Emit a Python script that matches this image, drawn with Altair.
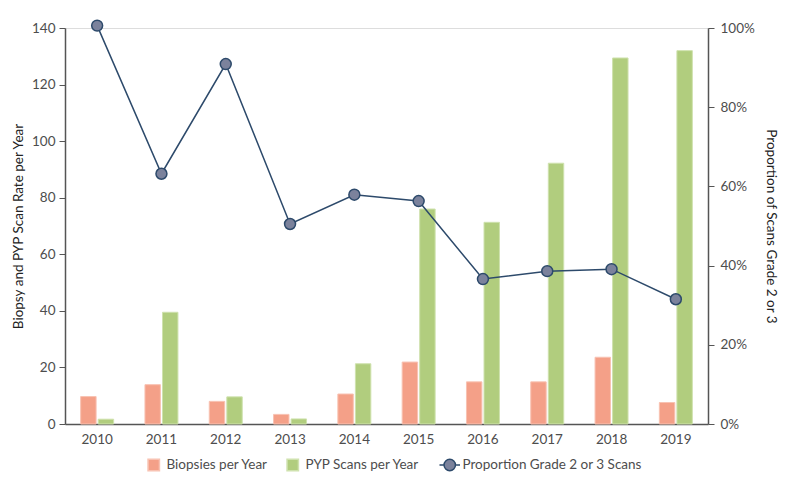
import altair as alt
import pandas as pd

years = ["2010", "2011", "2012", "2013", "2014", "2015", "2016", "2017", "2018", "2019"]
biopsies = [9.7, 13.9, 8.0, 3.4, 10.6, 21.9, 14.9, 14.9, 23.6, 7.6]
pyp_scans = [1.7, 39.5, 9.6, 1.8, 21.3, 76.0, 71.3, 92.2, 129.4, 132.0]
proportion = [1.006, 0.632, 0.909, 0.505, 0.579, 0.563, 0.366, 0.386, 0.391, 0.315]

series = ["Biopsies per Year", "PYP Scans per Year", "Proportion Grade 2 or 3 Scans"]
fill_colors = ["#F4A088", "#B1CD7E", "#7B829C"]
stroke_colors = ["#F8C2B2", "#CFE2AE", "#2D4A6B"]
line_symbol = "M-1.8,0 L-1,0 M1,0 L1.8,0 M1,0 A1,1 0 1 1 -1,0 A1,1 0 1 1 1,0 Z"
shapes = ["square", "square", line_symbol]

bars_df = pd.DataFrame({
    "year": years * 2,
    "series": [series[0]] * len(years) + [series[1]] * len(years),
    "value": biopsies + pyp_scans,
})
line_df = pd.DataFrame({"year": years, "series": series[2], "prop": proportion})

FONT = "Lato"

x_enc = alt.X("year:N", sort=years, title=None,
              scale=alt.Scale(paddingInner=0.487, paddingOuter=0.2435),
              axis=alt.Axis(labelAngle=0, ticks=False, labelPadding=8, domainColor="#555555",
                            domainWidth=1.5, labelColor="#4d4d4d", labelFontSize=13.5))

legend = alt.Legend(
    title=None, orient="none", direction="horizontal",
    legendX=82, legendY=430, symbolSize=130, symbolStrokeWidth=1.5,
    labelFontSize=13.5, labelColor="#4d4d4d", labelOffset=6, columnPadding=16,
    labelFont=FONT, labelLimit=400,
)

fill_scale = alt.Scale(domain=series, range=fill_colors)
stroke_scale = alt.Scale(domain=series, range=stroke_colors)
shape_scale = alt.Scale(domain=series, range=shapes)
y_prop = alt.Scale(domain=[0, 1], nice=False)

bars = alt.Chart(bars_df).mark_bar(strokeWidth=1).encode(
    x=x_enc,
    xOffset=alt.XOffset("series:N", sort=series[:2],
                        scale=alt.Scale(paddingInner=0.12, paddingOuter=0)),
    y=alt.Y("value:Q", scale=alt.Scale(domain=[0, 140], nice=False),
            axis=alt.Axis(values=[0, 20, 40, 60, 80, 100, 120, 140], grid=False,
                          title="Biopsy and PYP Scan Rate per Year", titleFontWeight="normal",
                          titleFontSize=13.5, titleColor="#222222", titlePadding=6,
                          labelColor="#4d4d4d", labelFontSize=13.5, tickColor="#555555",
                          tickSize=6, domainColor="#555555", domainWidth=1.5, labelPadding=4)),
    fill=alt.Fill("series:N", scale=fill_scale, legend=legend),
    stroke=alt.Stroke("series:N", scale=stroke_scale, legend=legend),
)

line = alt.Chart(line_df).mark_line(color="#2D4A6B", strokeWidth=1.5).encode(
    x=alt.X("year:N", sort=years),
    y=alt.Y("prop:Q", scale=y_prop,
            axis=alt.Axis(orient="right", format=".0%", values=[0, 0.2, 0.4, 0.6, 0.8, 1.0],
                          grid=False, title="Proportion of Scans Grade 2 or 3",
                          titleAngle=90, titleFontWeight="normal", titleFontSize=13.5,
                          titleColor="#222222", titlePadding=9, labelColor="#4d4d4d",
                          labelFontSize=13.5, tickColor="#555555", tickSize=6,
                          domainColor="#555555", domainWidth=1.5, labelPadding=6)),
)

# invisible layer that only feeds the legend its symbol shapes
legend_shapes = alt.Chart(line_df).mark_point(size=0, filled=True).encode(
    x=alt.X("year:N", sort=years),
    y=alt.Y("prop:Q", scale=y_prop),
    shape=alt.Shape("series:N", scale=shape_scale, legend=legend),
    fill=alt.Fill("series:N", scale=fill_scale, legend=legend),
    stroke=alt.Stroke("series:N", scale=stroke_scale, legend=legend),
)

points = alt.Chart(line_df).mark_point(filled=True, size=120, strokeWidth=1.5, opacity=1,
                                       shape="circle").encode(
    x=alt.X("year:N", sort=years),
    y=alt.Y("prop:Q", scale=y_prop),
    fill=alt.Fill("series:N", scale=fill_scale, legend=legend),
    stroke=alt.Stroke("series:N", scale=stroke_scale, legend=legend),
)

right = alt.layer(line, points, legend_shapes)

chart = alt.layer(bars, right).resolve_scale(y="independent").properties(
    width=643, height=396,
    autosize=alt.AutoSizeParams(type="none"),
    padding={"left": 57, "top": 20, "right": 84, "bottom": 51},
).configure_view(stroke=None).configure(font=FONT)

chart.save("out.html", embed_options={"renderer": "svg", "actions": False})
